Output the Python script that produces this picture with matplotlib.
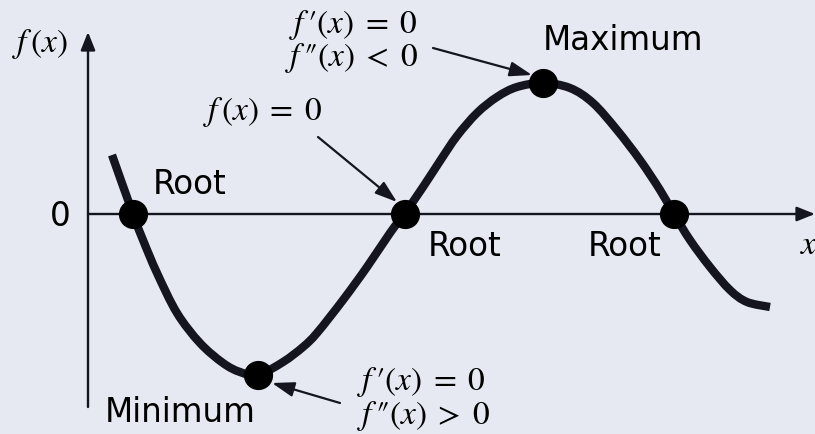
import matplotlib
matplotlib.use("Agg")
import matplotlib.pyplot as plt
from matplotlib.path import Path
from matplotlib.patches import PathPatch

plt.rcParams['mathtext.fontset'] = 'stix'

# Curve points (pixel coordinates, y downward)
curve_x = [112, 133, 143, 157, 177, 200, 223, 240, 258, 283, 303, 317, 343, 367, 390, 405,
           423, 440, 457, 477, 497, 517, 543, 570, 593, 617, 640, 660, 674, 690, 710, 730, 747, 770]
curve_y = [155, 214, 240, 273, 313, 343, 363, 372, 375, 362, 347, 333, 300, 267, 233, 213,
           187, 161, 136, 113, 97, 87, 83, 88, 103, 130, 160, 190, 214, 240, 267, 290, 302, 307]

# Special points: roots, minimum, maximum
point_x = [133, 405, 674, 258, 543]
point_y = [214, 214, 214, 375, 83]

# Axes geometry
x_axis = dict(y=214, x0=88, x1=815)
y_axis = dict(x=88, y0=407, y1=32)

bg = '#e6e9f1'
ink = '#15151f'

fig = plt.figure(figsize=(8.15, 4.34), dpi=100, facecolor=bg)
ax = fig.add_axes([0, 0, 1, 1])
ax.set_facecolor(bg)
ax.set_xlim(0, 815)
ax.set_ylim(434, 0)
ax.axis('off')

axis_arrow = dict(arrowstyle='-|>,head_length=0.55,head_width=0.22', color=ink,
                  lw=1.7, mutation_scale=20, shrinkA=0, shrinkB=0)
ax.annotate('', xy=(x_axis['x1'], x_axis['y']), xytext=(x_axis['x0'], x_axis['y']),
            arrowprops=axis_arrow)
ax.annotate('', xy=(y_axis['x'], y_axis['y1']), xytext=(y_axis['x'], y_axis['y0']),
            arrowprops=axis_arrow)

# Smooth rendering of the read points (Catmull-Rom style Bezier through every point)
pts = list(zip(curve_x, curve_y))
verts = [pts[0]]
codes = [Path.MOVETO]
n = len(pts)
for i in range(n - 1):
    p0 = pts[i - 1] if i > 0 else pts[i]
    p1 = pts[i]
    p2 = pts[i + 1]
    p3 = pts[i + 2] if i + 2 < n else pts[i + 1]
    c1 = (p1[0] + (p2[0] - p0[0]) / 6.0, p1[1] + (p2[1] - p0[1]) / 6.0)
    c2 = (p2[0] - (p3[0] - p1[0]) / 6.0, p2[1] - (p3[1] - p1[1]) / 6.0)
    verts += [c1, c2, p2]
    codes += [Path.CURVE4] * 3
ax.add_patch(PathPatch(Path(verts, codes), facecolor='none', edgecolor=ink, lw=6,
                       capstyle='butt', joinstyle='round', zorder=3))
ax.plot(point_x, point_y, 'o', color='black', ms=20, zorder=4)

sans = dict(family='DejaVu Sans', fontsize=23.5, color='black')
ax.text(60, 216, '0', ha='center', va='center', **sans)
ax.text(190, 185, 'Root', ha='center', va='center', **sans)
ax.text(465, 246, 'Root', ha='center', va='center', **sans)
ax.text(625, 246, 'Root', ha='center', va='center', **sans)
ax.text(623, 40, 'Maximum', ha='center', va='center', **sans)
ax.text(180, 413, 'Minimum', ha='center', va='center', **sans)

mt = dict(fontsize=24, color='black')
ax.text(40, 44, r'$f\,(x)$', ha='center', va='center', **mt)
ax.text(809, 244, r'$x$', ha='center', va='center', **mt)
ax.text(263, 112, r'$f\,(x)\;=\;0$', ha='center', va='center', **mt)
ax.text(418, 25, r"$f\,′(x)\;=\;0$", ha='right', va='center', **mt)
ax.text(418, 58, r"$f\,″(x)\;<\;0$", ha='right', va='center', **mt)
ax.text(357, 382, r"$f\,′(x)\;=\;0$", ha='left', va='center', **mt)
ax.text(357, 416, r"$f\,″(x)\;>\;0$", ha='left', va='center', **mt)

ptr = dict(arrowstyle='-|>,head_length=0.75,head_width=0.25', color=ink,
           lw=1.6, mutation_scale=18, shrinkA=0, shrinkB=0)
ax.annotate('', xy=(532, 75), xytext=(433, 48), arrowprops=ptr)
ax.annotate('', xy=(397, 202), xytext=(318, 137), arrowprops=ptr)
ax.annotate('', xy=(272, 383), xytext=(340, 403), arrowprops=ptr)

fig.savefig('out.png', dpi=100, facecolor=bg)
